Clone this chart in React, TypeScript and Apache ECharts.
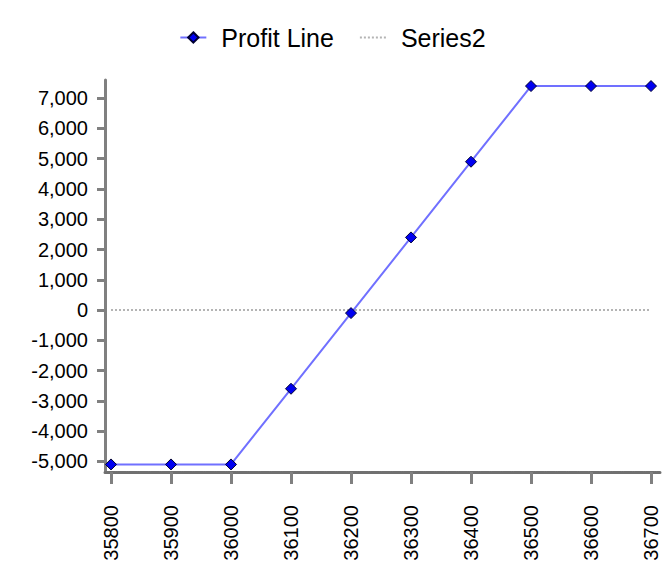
import React, { useEffect, useRef } from "react";
import * as echarts from "echarts";

const strikes = [35800, 35900, 36000, 36100, 36200, 36300, 36400, 36500, 36600, 36700];
const profit = [-5100, -5100, -5100, -2600, -100, 2400, 4900, 7400, 7400, 7400];
const series2 = [0, 0, 0, 0, 0, 0, 0, 0, 0, 0];
const yTicks = [-5000, -4000, -3000, -2000, -1000, 0, 1000, 2000, 3000, 4000, 5000, 6000, 7000];
const seriesNames = ["Profit Line", "Series2"];

const FONT = '"Liberation Sans", Arial, sans-serif';

export default function App() {
  const ref = useRef<HTMLDivElement>(null);
  useEffect(() => {
    if (!ref.current) return;
    const chart = echarts.init(ref.current, null, { renderer: "svg" });
    chart.setOption({
      animation: false,
      backgroundColor: "#ffffff",
      legend: {
        data: [
          { name: seriesNames[0] },
          { name: seriesNames[1], itemStyle: { opacity: 0 } },
        ],
        left: "center",
        top: 20,
        itemWidth: 26,
        itemHeight: 13,
        itemGap: 25,
        textStyle: { fontFamily: FONT, fontSize: 25, color: "#000", padding: [0, 0, 0, 10] },
      },
      grid: { left: 105, right: 5, top: 80, bottom: 116, outerBoundsMode: "none" },
      xAxis: {
        type: "value",
        min: 35790,
        max: 36715,
        splitLine: { show: false },
        axisLine: { show: true, onZero: false, lineStyle: { color: "#707070", width: 3, type: [1, 1.2] } },
        axisTick: { show: true, length: 12, lineStyle: { color: "#808080", width: 3 }, customValues: strikes },
        axisLabel: {
          rotate: 90,
          margin: 33,
          fontFamily: FONT,
          fontSize: 20,
          color: "#000",
          customValues: strikes,
          formatter: (v: number) => String(v),
        },
      },
      yAxis: {
        type: "value",
        min: -5350,
        max: 7600,
        splitLine: { show: false },
        axisLine: { show: true, onZero: false, lineStyle: { color: "#808080", width: 3 } },
        axisTick: { show: true, length: 8, lineStyle: { color: "#808080", width: 3 }, customValues: yTicks },
        axisLabel: {
          margin: 17,
          fontFamily: FONT,
          fontSize: 20,
          color: "#000",
          customValues: yTicks,
          formatter: (v: number) => v.toLocaleString("en-US"),
        },
      },
      series: [
        {
          name: seriesNames[1],
          type: "line",
          symbol: "none",
          data: strikes.map((s, i) => [s, series2[i]]),
          lineStyle: { color: "#b4b4b4", width: 2, type: "dotted" },
          itemStyle: { color: "#b4b4b4" },
          z: 2,
        },
        {
          name: seriesNames[0],
          type: "line",
          symbol: "diamond",
          symbolSize: 11,
          data: strikes.map((s, i) => [s, profit[i]]),
          lineStyle: { color: "#7070ff", width: 2 },
          itemStyle: { color: "#0000f0", borderColor: "#000033", borderWidth: 1 },
          z: 3,
        },
      ],
    });
    return () => chart.dispose();
  }, []);
  return (
    <div
      ref={ref}
      style={{ position: "fixed", left: 0, top: 0, width: 665, height: 588, background: "#fff" }}
    />
  );
}
